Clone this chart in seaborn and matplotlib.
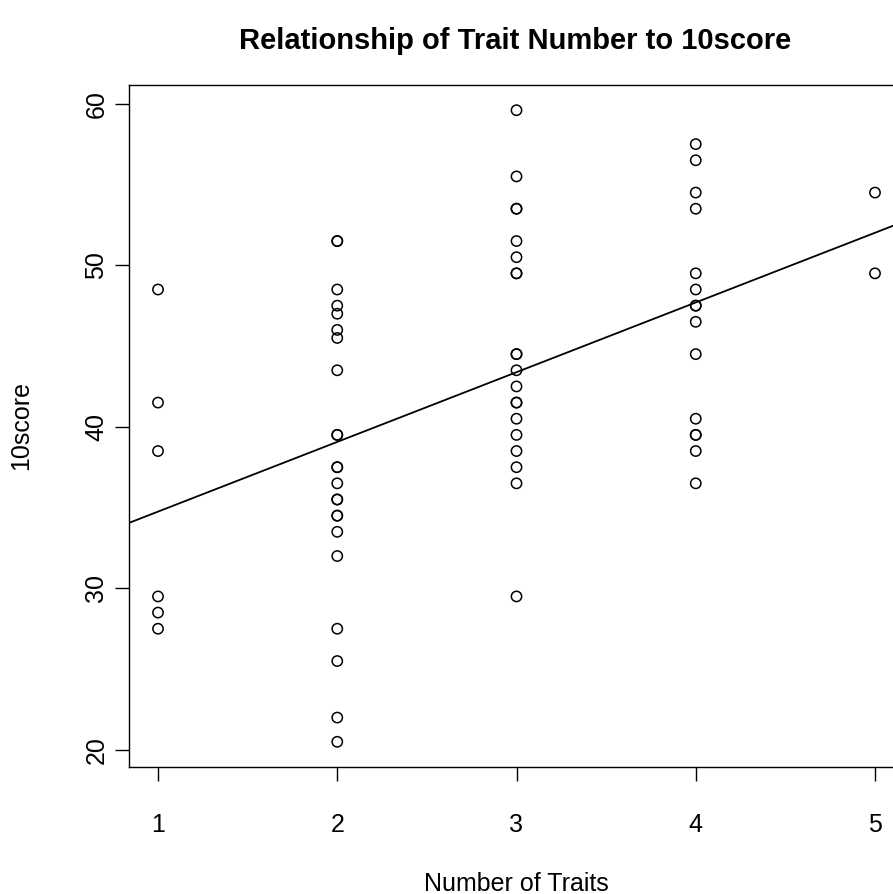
import matplotlib
matplotlib.use("Agg")
import matplotlib.pyplot as plt
import seaborn as sns
import pandas as pd

traits_1 = [48.5, 41.5, 38.5, 29.5, 28.5, 27.5]
traits_2 = [51.5, 51.5, 48.5, 47.5, 47.0, 46.0, 45.5, 43.5, 39.5, 39.5, 37.5, 37.5,
            36.5, 35.5, 35.5, 34.5, 34.5, 33.5, 32.0, 27.5, 25.5, 22.0, 20.5]
traits_3 = [59.6, 55.5, 53.5, 53.5, 51.5, 50.5, 49.5, 49.5, 44.5, 44.5, 43.5, 42.5,
            41.5, 41.5, 40.5, 39.5, 38.5, 37.5, 36.5, 29.5]
traits_4 = [57.5, 56.5, 54.5, 53.5, 49.5, 48.5, 47.5, 47.5, 46.5, 44.5, 40.5,
            39.5, 39.5, 38.5, 36.5]
traits_5 = [54.5, 49.5]

groups = {1: traits_1, 2: traits_2, 3: traits_3, 4: traits_4, 5: traits_5}
rows = [(k, v) for k, vals in groups.items() for v in vals]
df = pd.DataFrame(rows, columns=["traits", "score"])

x_ticks = [1, 2, 3, 4, 5]
y_ticks = [20, 30, 40, 50, 60]

sns.set_theme(style="white")
plt.rcParams["font.family"] = ["Liberation Sans", "DejaVu Sans"]
plt.rcParams["text.color"] = "black"
plt.rcParams["axes.labelcolor"] = "black"
plt.rcParams["xtick.color"] = "black"
plt.rcParams["ytick.color"] = "black"

W, H = 893, 894
x_lo, x_hi = 0.84, 5.16
px_per_unit = 179.25
left_px = 158 - (1 - x_lo) * px_per_unit
right_px = 875 + (x_hi - 5) * px_per_unit

fig = plt.figure(figsize=(W / 100, H / 100), dpi=100)
ax = fig.add_axes([left_px / W, (H - 767) / H, (right_px - left_px) / W, (767 - 85) / H])

ax.set_xlim(x_lo, x_hi)
ax.set_ylim(18.94, 61.16)

sns.scatterplot(data=df, x="traits", y="score", ax=ax, marker="o",
                facecolor="none", edgecolor="black", linewidth=1.1, s=55)
sns.regplot(data=df, x="traits", y="score", ax=ax, scatter=False, ci=None,
            truncate=False, line_kws=dict(color="black", lw=1.3))

ax.set_xlim(x_lo, x_hi)
ax.set_ylim(18.94, 61.16)
ax.set_xticks(x_ticks)
ax.set_xticklabels([str(t) for t in x_ticks], fontsize=18)
ax.set_yticks(y_ticks)
ax.set_yticklabels([str(t) for t in y_ticks], fontsize=18, rotation=90, va="center")
ax.tick_params(axis="both", direction="out", length=10, width=1, color="black",
               bottom=True, left=True)
ax.tick_params(axis="x", pad=23)
ax.tick_params(axis="y", pad=5)
for sp in ax.spines.values():
    sp.set_color("black")
    sp.set_linewidth(1)

ax.set_xlabel("Number of Traits", fontsize=18, labelpad=25)
ax.set_ylabel("10score", fontsize=18, labelpad=37)
fig.text(515 / W, 1 - 41 / H, "Relationship of Trait Number to 10score",
         ha="center", va="center", fontsize=21, fontweight="bold")

fig.savefig("out.png", dpi=100, facecolor="white")
